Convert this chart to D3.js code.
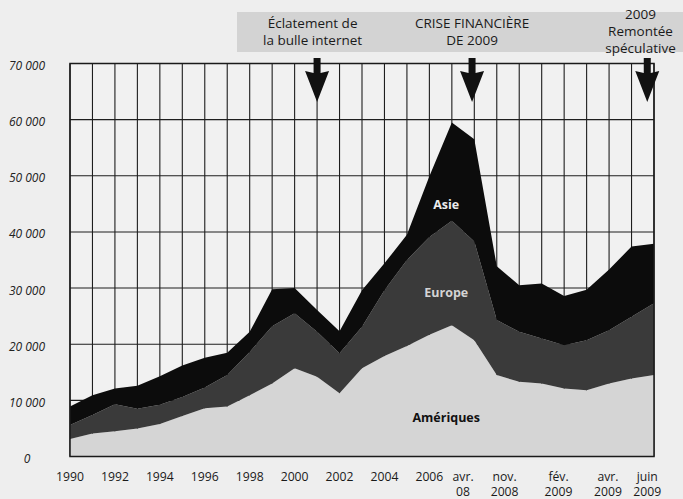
<!DOCTYPE html>
<html>
<head>
<meta charset="utf-8">
<script src="https://cdn.jsdelivr.net/npm/d3@7"></script>
<style>
  html, body { margin: 0; padding: 0; background: #eeeeee; }
  svg { display: block; }
  text { font-family: "Open Sans", "Noto Sans", sans-serif; }
</style>
</head>
<body>
<svg id="chart" width="683" height="499"></svg>
<script>
// ---------- data ----------
const periods = ["1990","1991","1992","1993","1994","1995","1996","1997","1998","1999",
  "2000","2001","2002","2003","2004","2005","2006","2007",
  "p18","p19","p20","p21","p22","p23","p24","p25","p26"];

const ameriques = [3100,4100,4500,5000,5800,7200,8600,8900,10900,13000,
  15700,14200,11250,15700,17900,19700,21700,23400,
  20700,14500,13300,13000,12100,11800,13000,13900,14500];

const europe = [2500,3300,4800,3500,3400,3400,3700,5600,7700,10200,
  9800,8000,7150,7400,11700,15300,17400,18600,
  17600,9800,8900,8000,7700,8900,9500,11000,12800];

const asie = [3300,3500,2800,4100,5100,5600,5300,4000,3600,6600,
  4500,3900,3900,6500,4800,4500,10800,17500,
  18200,9600,8300,9800,8800,9000,10800,12500,10600];

const seriesNames = ["Amériques","Europe","Asie"];

const yTicks = [0,10000,20000,30000,40000,50000,60000,70000];

const xTickLabels = [["1990"],["1992"],["1994"],["1996"],["1998"],["2000"],["2002"],["2004"],["2006"],
  ["avr.","08"],["nov.","2008"],["fév.","2009"],["avr.","2009"],["juin","2009"]];
const xTickAt = [0,2,4,6,8,10,12,14,16,17.5,19.35,21.75,23.95,25.7];

const events = [
  {lines:["Éclatement de","la bulle internet"], textAt:10.8, arrowAt:11},
  {lines:["CRISE FINANCIÈRE","DE 2009"], textAt:17.9, arrowAt:17.9},
  {lines:["2009","Remontée","spéculative"], textAt:25.4, arrowAt:25.7}
];

const areaLabels = [
  {name:"Asie", at:16.75, value:44800, color:"#ececec"},
  {name:"Europe", at:16.75, value:29200, color:"#d4d4d4"},
  {name:"Amériques", at:16.75, value:7000, color:"#111111"}
];

// ---------- layout ----------
const svg = d3.select("#chart");
const M = {left: 70, right: 654, top: 63.5, bottom: 456.5};

const x = d3.scaleLinear().domain([0, periods.length - 1]).range([M.left, M.right]);
const y = d3.scaleLinear().domain([0, 70000]).range([M.bottom, M.top]);

svg.append("rect").attr("width",683).attr("height",499).attr("fill","#eeeeee");

// header band
svg.append("rect").attr("x",237).attr("y",12).attr("width",446).attr("height",40).attr("fill","#d3d3d3");

// plot background
svg.append("rect").attr("x",M.left).attr("y",M.top).attr("width",M.right-M.left).attr("height",M.bottom-M.top).attr("fill","#f1f1f1");

// grid
const grid = svg.append("g").attr("stroke","#1e1e1e").attr("stroke-width",1.1);
grid.selectAll("line.v").data(periods).join("line").attr("class","v")
  .attr("x1",(d,i)=>x(i)).attr("x2",(d,i)=>x(i)).attr("y1",M.top).attr("y2",M.bottom);
grid.selectAll("line.h").data(yTicks).join("line").attr("class","h")
  .attr("x1",M.left).attr("x2",M.right).attr("y1",d=>y(d)).attr("y2",d=>y(d));

// stacked areas
const table = periods.map((p,i)=>({p, "Amériques":ameriques[i], "Europe":europe[i], "Asie":asie[i], i}));
const stack = d3.stack().keys(seriesNames)(table);
const colors = {"Amériques":"#d5d5d5","Europe":"#3a3a3a","Asie":"#0c0c0c"};
const area = d3.area().x(d=>x(d.data.i)).y0(d=>y(d[0])).y1(d=>y(d[1]));
svg.append("g").selectAll("path").data(stack).join("path")
  .attr("d",area).attr("fill",d=>colors[d.key]);

// frame
svg.append("rect").attr("x",M.left).attr("y",M.top).attr("width",M.right-M.left).attr("height",M.bottom-M.top)
  .attr("fill","none").attr("stroke","#1a1a1a").attr("stroke-width",1.5);

// area labels
svg.append("g").selectAll("text").data(areaLabels).join("text")
  .attr("x",d=>x(d.at)).attr("y",d=>y(d.value)).attr("dy","0.35em")
  .attr("text-anchor","middle").attr("font-size",12.5).attr("font-weight","bold")
  .attr("fill",d=>d.color).text(d=>d.name);

// y axis labels
svg.append("g").selectAll("text").data(yTicks).join("text")
  .attr("x",27).attr("y",d=>y(d)+6.5)
  .attr("text-anchor","middle").attr("font-size",12).attr("font-style","italic")
  .attr("fill","#222").text(d=>d3.format(",")(d).replace(/,/g," "));

// x axis labels
const xl = svg.append("g").selectAll("text").data(xTickLabels).join("text")
  .attr("text-anchor","middle").attr("font-size",12.2).attr("fill","#1a1a1a");
xl.each(function(d,i){
  const t = d3.select(this);
  d.forEach((line,k)=>{
    t.append("tspan").attr("x",x(xTickAt[i])).attr("y",481 + k*15.3).text(line);
  });
});

// events: text (lines as tspans) + arrows
const ev = svg.append("g");
events.forEach(e=>{
  const n = e.lines.length;
  const lh = 17;
  const base = n === 3 ? 19 : 28;
  const t = ev.append("text").attr("text-anchor","middle").attr("font-size",13.5).attr("fill","#1a1a1a");
  e.lines.forEach((line,k)=>{
    t.append("tspan").attr("x",x(e.textAt)).attr("y",base + k*lh).text(line);
  });
  const cx = x(e.arrowAt);
  const p = d3.path();
  p.moveTo(cx-3.5,58); p.lineTo(cx+3.5,58); p.lineTo(cx+3.5,73);
  p.lineTo(cx+12,71); p.lineTo(cx,102); p.lineTo(cx-12,71); p.lineTo(cx-3.5,73); p.closePath();
  ev.append("path").attr("d",p.toString()).attr("fill","#111");
});
</script>
</body>
</html>
